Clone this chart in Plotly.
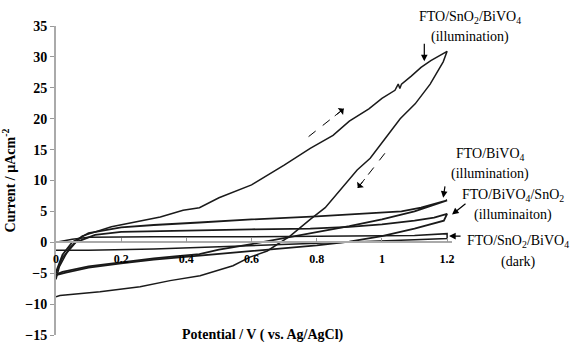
import plotly.graph_objects as go

# ---- data ----
x_ticks = [0, 0.2, 0.4, 0.6, 0.8, 1.0, 1.2]
x_tick_text = ["0", "0.2", "0.4", "0.6", "0.8", "1", "1.2"]
y_ticks = [-15, -10, -5, 0, 5, 10, 15, 20, 25, 30, 35]

# FTO/SnO2/BiVO4 (illumination) - forward then reverse scan
sb_ill_fwd_x = [0.0, 0.01, 0.04, 0.08, 0.17, 0.24, 0.32, 0.39, 0.44, 0.50, 0.60, 0.70, 0.78,
                0.85, 0.90, 0.96, 1.00, 1.04, 1.05, 1.055, 1.06, 1.09, 1.12, 1.15, 1.17, 1.20]
sb_ill_fwd_y = [-6.0, -4.0, -1.0, 1.0, 2.5, 3.3, 4.1, 5.2, 5.6, 7.2, 9.3, 12.5, 15.2,
                17.3, 19.6, 21.6, 23.3, 24.6, 25.6, 24.9, 25.6, 26.9, 28.3, 29.4, 30.0, 30.9]
sb_ill_rev_x = [1.20, 1.188, 1.148, 1.102, 1.056, 1.01, 0.964, 0.924, 0.872, 0.826, 0.78,
                0.718, 0.648, 0.595, 0.543, 0.442, 0.35, 0.258, 0.135, 0.012, 0.0]
sb_ill_rev_y = [30.9, 29.2, 25.6, 22.4, 20.0, 16.8, 13.6, 11.7, 8.5, 5.6, 3.7,
                1.0, -1.4, -2.4, -3.8, -5.4, -6.2, -7.2, -8.0, -8.6, -8.8]

# FTO/BiVO4 (illumination)
b_ill_fwd_x = [0.0, 0.02, 0.05, 0.10, 0.20, 0.30, 0.44, 0.60, 0.80, 0.95, 1.06, 1.12, 1.20]
b_ill_fwd_y = [-4.8, -2.0, 0.0, 1.5, 2.4, 2.8, 3.2, 3.7, 4.2, 4.6, 5.0, 5.6, 6.8]
b_ill_rev_x = [1.20, 1.10, 1.00, 0.90, 0.80, 0.70, 0.60, 0.50, 0.44, 0.30, 0.20, 0.10, 0.02, 0.0]
b_ill_rev_y = [6.8, 5.0, 3.7, 2.6, 1.6, 0.6, -0.3, -1.2, -1.9, -2.6, -3.2, -3.9, -4.8, -5.2]

# FTO/BiVO4/SnO2 (illumination)
bs_ill_fwd_x = [0.0, 0.02, 0.06, 0.12, 0.20, 0.44, 0.60, 0.78, 0.90, 1.00, 1.10, 1.16, 1.20]
bs_ill_fwd_y = [-5.0, -2.5, 0.0, 1.2, 1.7, 2.0, 2.1, 2.2, 2.5, 2.9, 3.5, 4.0, 4.6]
bs_ill_rev_x = [1.20, 1.19, 1.15, 1.10, 1.00, 0.90, 0.80, 0.60, 0.44, 0.30, 0.20, 0.10, 0.03, 0.0]
bs_ill_rev_y = [4.6, 3.5, 2.9, 2.2, 1.0, 0.1, -0.5, -1.4, -2.2, -2.8, -3.4, -4.1, -4.9, -5.3]

# FTO/SnO2/BiVO4 (dark)
sb_dark_fwd_x = [0.0, 0.05, 0.10, 0.30, 0.60, 0.90, 1.10, 1.20]
sb_dark_fwd_y = [0.0, 0.5, 0.8, 0.9, 0.9, 1.0, 1.1, 1.4]
sb_dark_rev_x = [1.20, 1.20, 1.10, 0.90, 0.70, 0.50, 0.30, 0.10, 0.0]
sb_dark_rev_y = [1.4, 0.6, 0.4, 0.0, -0.4, -0.8, -1.1, -1.3, -1.3]

curves = [
    (sb_ill_fwd_x + sb_ill_rev_x, sb_ill_fwd_y + sb_ill_rev_y, 1.5),
    (b_ill_fwd_x + b_ill_rev_x, b_ill_fwd_y + b_ill_rev_y, 1.8),
    (bs_ill_fwd_x + bs_ill_rev_x, bs_ill_fwd_y + bs_ill_rev_y, 1.8),
    (sb_dark_fwd_x + sb_dark_rev_x, sb_dark_fwd_y + sb_dark_rev_y, 1.5),
]

SERIF = "Liberation Serif, Times New Roman, serif"

fig = go.Figure()
for cx, cy, w in curves:
    fig.add_trace(go.Scatter(x=cx, y=cy, mode="lines",
                             line=dict(color="#1a1a1a", width=w),
                             showlegend=False, hoverinfo="skip"))

# dashed scan-direction arrows
dashed = [((0.775, 17.1), (0.883, 21.6)), ((1.009, 14.4), (0.926, 8.8))]
for (x0, y0), (x1, y1) in dashed:
    fig.add_shape(type="line", x0=x0, y0=y0, x1=x1, y1=y1, xref="x", yref="y",
                  line=dict(color="black", width=1, dash="dash"))
    fig.add_annotation(x=x1, y=y1, ax=x0 + (x1 - x0) * 0.7, ay=y0 + (y1 - y0) * 0.7,
                       axref="x", ayref="y", xref="x", yref="y", text="",
                       showarrow=True, arrowhead=1, arrowsize=1.6, arrowwidth=0.9,
                       arrowcolor="black")

# labels (paper coordinates, outside the plotting area on the right)
lab_font = dict(family=SERIF, size=14, color="black")
labels = [
    (1.045, 1.026, "FTO/SnO<sub>2</sub>/BiVO<sub>4</sub>"),
    (1.045, 0.964, "(illumination)"),
    (1.096, 0.583, "FTO/BiVO<sub>4</sub>"),
    (1.096, 0.521, "(illumination)"),
    (1.154, 0.453, "FTO/BiVO<sub>4</sub>/SnO<sub>2</sub>"),
    (1.154, 0.388, "(illuminaiton)"),
    (1.167, 0.301, "FTO/SnO<sub>2</sub>/BiVO<sub>4</sub>"),
    (1.167, 0.236, "(dark)"),
]
for lx, ly, t in labels:
    fig.add_annotation(x=lx, y=ly, xref="paper", yref="paper", text=t, showarrow=False,
                       font=lab_font, xanchor="center", yanchor="middle")

# pointer arrows
pointers = [(1.13, 29.3, 0, -19), (1.188, 7.2, 2, -13), (1.215, 4.5, 15, -12), (1.206, 1.0, 13, 0)]
for px_, py_, ax_, ay_ in pointers:
    fig.add_annotation(x=px_, y=py_, xref="x", yref="y", ax=ax_, ay=ay_, text="",
                       showarrow=True, arrowhead=2, arrowsize=1.1, arrowwidth=1.2,
                       arrowcolor="black", standoff=0)

# x-axis title
fig.add_annotation(x=0.523, y=0.0, xref="paper", yref="paper",
                   text="<b>Potential / V ( vs. Ag/AgCl)</b>", showarrow=False,
                   font=dict(family=SERIF, size=14, color="black"),
                   xanchor="center", yanchor="middle")

fig.update_layout(
    width=573, height=344,
    margin=dict(l=56, r=121, t=26, b=9, autoexpand=False),
    paper_bgcolor="white", plot_bgcolor="white",
    xaxis=dict(range=[0, 1.215], anchor="free", position=0.3, automargin=False,
               showline=True, linecolor="#aaaaaa", linewidth=1.5,
               ticks="inside", ticklen=4, tickcolor="#999999",
               tickvals=x_ticks, ticktext=x_tick_text, ticklabelstandoff=6,
               tickfont=dict(family=SERIF, size=12, color="black", weight="bold"),
               showgrid=False, zeroline=False),
    yaxis=dict(range=[-15, 35], tickvals=y_ticks, automargin=False,
               showline=True, linecolor="#aaaaaa", linewidth=2,
               ticks="outside", ticklen=4, tickcolor="#999999",
               ticklabeloverflow="allow",
               tickfont=dict(family=SERIF, size=14, color="black", weight="bold"),
               showgrid=False, zeroline=False,
               title=dict(text="<b>Current / µAcm<sup>-2</sup></b>", standoff=6,
                          font=dict(family=SERIF, size=14, color="black"))),
)

fig.write_html("out.html")
